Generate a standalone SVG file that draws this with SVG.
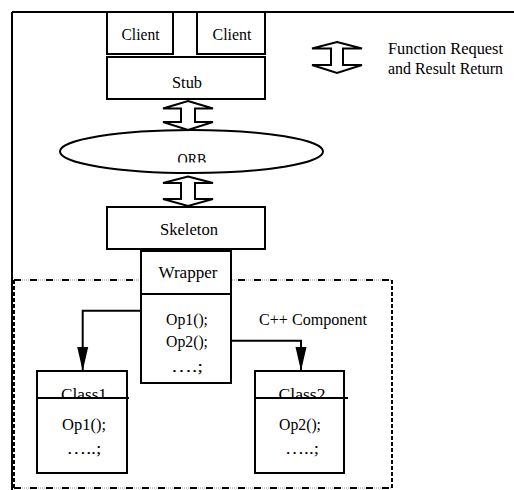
<svg xmlns="http://www.w3.org/2000/svg" width="514" height="490" viewBox="0 0 514 490" font-family="Liberation Serif, Times New Roman, serif" font-size="17.5">
  <style>
    .box { fill: #fff; stroke: #000; stroke-width: 2; }
    .line { fill: none; stroke: #000; stroke-width: 2; }
    .blk { fill: #fff; stroke: #000; stroke-width: 2; stroke-linejoin: miter; }
    .lbl { text-anchor: middle; }
    .dash-h { fill: none; stroke: #000; stroke-width: 2; stroke-dasharray: 7 9; }
    .dash-v { fill: none; stroke: #000; stroke-width: 2; stroke-dasharray: 4 2; }
    .dot { fill: none; stroke: #c8c8c8; stroke-width: 2; stroke-dasharray: 1 1; }
  </style>
  <defs>
    <marker id="tri" markerUnits="userSpaceOnUse" markerWidth="24" markerHeight="12" refX="24" refY="6" orient="auto">
      <path d="M0,0.5 L24,6 L0,11.5 Z" fill="#000"/>
    </marker>
    <clipPath id="orbClip"><rect x="60" y="130" width="264" height="32.5"/></clipPath>
    <clipPath id="c1Clip"><rect x="37" y="371" width="90" height="26"/></clipPath>
    <clipPath id="c2Clip"><rect x="255" y="371" width="90" height="26"/></clipPath>
  </defs>

  <!-- outer frame (top and left edges) -->
  <path class="line" d="M12,12 H514 M12,12 V490"/>

  <!-- component boundary -->
  <g id="component-boundary">
    <path class="dot" d="M14,280 H392 M14,488 H392"/>
    <path class="dash-h" d="M14,280 H392 M14,488 H392"/>
    <path class="dash-v" d="M14,280 V488 M392,280 V488"/>
    <text class="lbl" x="313" y="325" textLength="108" lengthAdjust="spacingAndGlyphs">C++ Component</text>
  </g>

  <!-- block double-arrows between layers, and call links -->
  <g id="connectors">
    <path class="blk" d="M188,101 L213,108.5 L195,108.5 L195,122 L213,122 L188,130 L163,122 L181,122 L181,108.5 L163,108.5 Z"/>
    <path class="blk" d="M188,176.5 L213,183 L195,183 L195,199 L213,199 L188,206 L163,199 L181,199 L181,183 L163,183 Z"/>
    <path class="line" d="M141,310.7 H82.7 V371" marker-end="url(#tri)"/>
    <path class="line" d="M231,340.7 H301 V371" marker-end="url(#tri)"/>
  </g>

  <g id="client1">
    <rect class="box" x="107" y="12" width="66" height="42"/>
    <text class="lbl" x="140.5" y="40" textLength="38" lengthAdjust="spacingAndGlyphs">Client</text>
  </g>
  <g id="client2">
    <rect class="box" x="197" y="12" width="68" height="42"/>
    <text class="lbl" x="232" y="40" textLength="39" lengthAdjust="spacingAndGlyphs">Client</text>
  </g>
  <g id="stub">
    <rect class="box" x="107" y="57" width="158" height="42"/>
    <text class="lbl" x="187" y="88" textLength="30" lengthAdjust="spacingAndGlyphs">Stub</text>
  </g>

  <g id="orb">
    <ellipse class="box" cx="191.5" cy="151.5" rx="131.5" ry="21.5"/>
    <text class="lbl" x="192" y="165" textLength="29" lengthAdjust="spacingAndGlyphs" clip-path="url(#orbClip)">ORB</text>
  </g>

  <g id="skeleton">
    <rect class="box" x="107" y="207" width="158" height="42"/>
    <text class="lbl" x="189" y="235" textLength="58" lengthAdjust="spacingAndGlyphs">Skeleton</text>
  </g>

  <g id="wrapper">
    <rect class="box" x="141" y="251" width="90" height="132"/>
    <path class="line" d="M141,294 H231"/>
    <text class="lbl" x="188" y="278" textLength="59" lengthAdjust="spacingAndGlyphs">Wrapper</text>
    <text class="lbl" x="187" y="325" textLength="42" lengthAdjust="spacingAndGlyphs">Op1();</text>
    <text class="lbl" x="187" y="347" textLength="42" lengthAdjust="spacingAndGlyphs">Op2();</text>
    <text class="lbl" x="187" y="372" textLength="32" lengthAdjust="spacingAndGlyphs">….;</text>
  </g>

  <g id="class1">
    <rect class="box" x="37" y="371" width="90" height="102"/>
    <text class="lbl" x="84" y="400" textLength="46" lengthAdjust="spacingAndGlyphs" clip-path="url(#c1Clip)">Class1</text>
    <path class="line" d="M37,398 H129"/>
    <text class="lbl" x="84" y="430" textLength="44" lengthAdjust="spacingAndGlyphs">Op1();</text>
    <text class="lbl" x="84" y="454" textLength="35" lengthAdjust="spacingAndGlyphs">…..;</text>
  </g>

  <g id="class2">
    <rect class="box" x="255" y="371" width="89" height="102"/>
    <text class="lbl" x="302" y="400" textLength="47" lengthAdjust="spacingAndGlyphs" clip-path="url(#c2Clip)">Class2</text>
    <path class="line" d="M255,398 H348"/>
    <text class="lbl" x="300" y="430" textLength="42" lengthAdjust="spacingAndGlyphs">Op2();</text>
    <text class="lbl" x="302" y="454" textLength="34" lengthAdjust="spacingAndGlyphs">…..;</text>
  </g>

  <g id="legend">
    <path class="blk" d="M337,42 L362,48.5 L343,48.5 L343,65 L362,65 L337,73 L312,65 L331,65 L331,48.5 L312,48.5 Z"/>
    <text x="388" y="54" textLength="115" lengthAdjust="spacingAndGlyphs">Function Request</text>
    <text x="388" y="74" textLength="115" lengthAdjust="spacingAndGlyphs">and Result Return</text>
  </g>
</svg>
